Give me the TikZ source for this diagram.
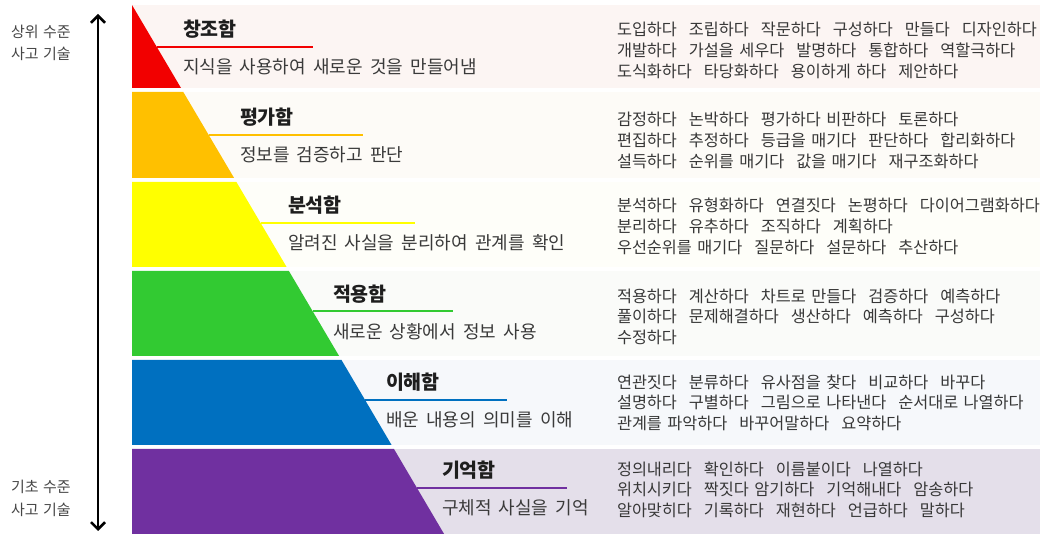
\documentclass[tikz,border=0pt]{standalone}
\usepackage{fontspec}
\setmainfont{Noto Sans CJK KR}
\usetikzlibrary{arrows.meta}
\definecolor{cRed}{RGB}{242,0,0}
\definecolor{cOrange}{RGB}{255,192,0}
\definecolor{cYellow}{RGB}{255,255,0}
\definecolor{cGreen}{RGB}{50,202,50}
\definecolor{cBlue}{RGB}{0,112,192}
\definecolor{cPurple}{RGB}{112,48,160}
\definecolor{bgA}{RGB}{252,245,243}
\definecolor{bgB}{RGB}{253,251,247}
\definecolor{bgC}{RGB}{254,254,249}
\definecolor{bgD}{RGB}{250,251,249}
\definecolor{bgE}{RGB}{246,248,251}
\definecolor{bgF}{RGB}{228,223,234}
\definecolor{hdrcol}{RGB}{30,30,30}
\definecolor{dsccol}{RGB}{58,58,58}
\definecolor{verbcol}{RGB}{55,55,55}
\definecolor{sidecol}{RGB}{70,70,70}
\newcommand{\gp}{\hspace{12pt}}
\newcommand{\hdrfont}{\fontsize{19.5}{22}\selectfont\bfseries}
\newcommand{\dscfont}{\fontsize{18}{20}\selectfont\spaceskip 0.4em\relax}
\newcommand{\verbfont}{\fontsize{16.3}{18}\selectfont\spaceskip 0.33em\relax}
\newcommand{\sidefont}{\fontsize{15}{17}\selectfont\spaceskip 0.3em\relax}
\tikzset{
  txt/.style={anchor=west, inner sep=0pt, outer sep=0pt, text height=1.05em, text depth=0pt},
  hdr/.style={txt, text=hdrcol, font=\hdrfont},
  dsc/.style={txt, text=dsccol, font=\dscfont},
  verb/.style={txt, text=verbcol, font=\verbfont},
  side/.style={txt, text=sidecol, font=\sidefont},
  uline/.style={line width=2.4pt},
  levelarrow/.style={line width=2.5pt, {Straight Barb[length=7pt,width=14pt]}-{Straight Barb[length=7pt,width=14pt]}}
}
\begin{document}
\begin{tikzpicture}[x=1pt,y=-1pt]
\useasboundingbox (0,0) rectangle (1045,534);
% row backgrounds
\fill[bgA] (132,5) rectangle (1040,88);
\fill[bgB] (132,92) rectangle (1040,178);
\fill[bgC] (132,182) rectangle (1040,267);
\fill[bgD] (132,271) rectangle (1040,356);
\fill[bgE] (132,360) rectangle (1040,445);
\fill[bgF] (132,449) rectangle (1040,534);
% pyramid bands
\fill[cRed] (132,5) -- (181.0,88) -- (132,88) -- cycle;
\fill[cOrange] (132,92) -- (183.3,92) -- (234.1,178) -- (132,178) -- cycle;
\fill[cYellow] (132,182) -- (236.4,182) -- (286.6,267) -- (132,267) -- cycle;
\fill[cGreen] (132,271) -- (288.9,271) -- (339.1,356) -- (132,356) -- cycle;
\fill[cBlue] (132,360) -- (341.5,360) -- (391.6,445) -- (132,445) -- cycle;
\fill[cPurple] (132,449) -- (394.0,449) -- (444.1,534) -- (132,534) -- cycle;
% underline end points
\coordinate (u1s) at (156.8,47);  \coordinate (u1e) at (313,47);
\coordinate (u2s) at (208.7,135); \coordinate (u2e) at (363,135);
\coordinate (u3s) at (260.6,223); \coordinate (u3e) at (415,223);
\coordinate (u4s) at (313.1,311); \coordinate (u4e) at (453,311);
\coordinate (u5s) at (365.0,400); \coordinate (u5e) at (507,400);
\coordinate (u6s) at (417.0,488); \coordinate (u6e) at (567,488);
\draw[uline, cRed] (u1s) -- (u1e);
\draw[uline, cOrange] (u2s) -- (u2e);
\draw[uline, cYellow] (u3s) -- (u3e);
\draw[uline, cGreen] (u4s) -- (u4e);
\draw[uline, cBlue] (u5s) -- (u5e);
\draw[uline, cPurple] (u6s) -- (u6e);
% headers and descriptions
\node[hdr] (h1) at (183,31) {창조함};
\node[dsc] (d1) at (183,68) {지식을 사용하여 새로운 것을 만들어냄};
\node[hdr] (h2) at (240,119) {평가함};
\node[dsc] (d2) at (240,156) {정보를 검증하고 판단};
\node[hdr] (h3) at (288,207) {분석함};
\node[dsc] (d3) at (288,244) {알려진 사실을 분리하여 관계를 확인};
\node[hdr] (h4) at (333,296) {적용함};
\node[dsc] (d4) at (333,333) {새로운 상황에서 정보 사용};
\node[hdr] (h5) at (386,384) {이해함};
\node[dsc] (d5) at (386,421) {배운 내용의 의미를 이해};
\node[hdr] (h6) at (442,472) {기억함};
\node[dsc] (d6) at (442,509) {구체적 사실을 기억};
% verbs
\node[verb] (v11) at (617,30) {도입하다\gp 조립하다\gp 작문하다\gp 구성하다\gp 만들다\gp 디자인하다};
\node[verb] (v12) at (617,51) {개발하다\gp 가설을 세우다\gp 발명하다\gp 통합하다\gp 역할극하다};
\node[verb] (v13) at (617,72) {도식화하다\gp 타당화하다\gp 용이하게 하다\gp 제안하다};
\node[verb] (v21) at (617,120) {감정하다\gp 논박하다\gp 평가하다 비판하다\gp 토론하다};
\node[verb] (v22) at (617,141) {편집하다\gp 추정하다\gp 등급을 매기다\gp 판단하다\gp 합리화하다};
\node[verb] (v23) at (617,162) {설득하다\gp 순위를 매기다\gp 값을 매기다\gp 재구조화하다};
\node[verb] (v31) at (617,206) {분석하다\gp 유형화하다\gp 연결짓다\gp 논평하다\gp 다이어그램화하다};
\node[verb] (v32) at (617,227) {분리하다\gp 유추하다\gp 조직하다\gp 계획하다};
\node[verb] (v33) at (617,248) {우선순위를 매기다\gp 질문하다\gp 설문하다\gp 추산하다};
\node[verb] (v41) at (617,297) {적용하다\gp 계산하다\gp 차트로 만들다\gp 검증하다\gp 예측하다};
\node[verb] (v42) at (617,317.5) {풀이하다\gp 문제해결하다\gp 생산하다\gp 예측하다\gp 구성하다};
\node[verb] (v43) at (617,338) {수정하다};
\node[verb] (v51) at (617,383) {연관짓다\gp 분류하다\gp 유사점을 찾다\gp 비교하다\gp 바꾸다};
\node[verb] (v52) at (617,403.5) {설명하다\gp 구별하다\gp 그림으로 나타낸다\gp 순서대로 나열하다};
\node[verb] (v53) at (617,424) {관계를 파악하다\gp 바꾸어말하다\gp 요약하다};
\node[verb] (v61) at (617,470) {정의내리다\gp 확인하다\gp 이름붙이다\gp 나열하다};
\node[verb] (v62) at (617,490.5) {위치시키다\gp 짝짓다 암기하다\gp 기억해내다\gp 암송하다};
\node[verb] (v63) at (617,511) {알아맞히다\gp 기록하다\gp 재현하다\gp 언급하다\gp 말하다};
% side labels and arrow
\node[side] (s1) at (11,32) {상위 수준};
\node[side] (s2) at (11,54) {사고 기술};
\node[side] (s3) at (11,487) {기초 수준};
\node[side] (s4) at (11,510) {사고 기술};
\coordinate (arrTop) at (98,14);
\coordinate (arrBot) at (98,531);
\draw[levelarrow] (arrBot) -- (arrTop);
\end{tikzpicture}
\end{document}
